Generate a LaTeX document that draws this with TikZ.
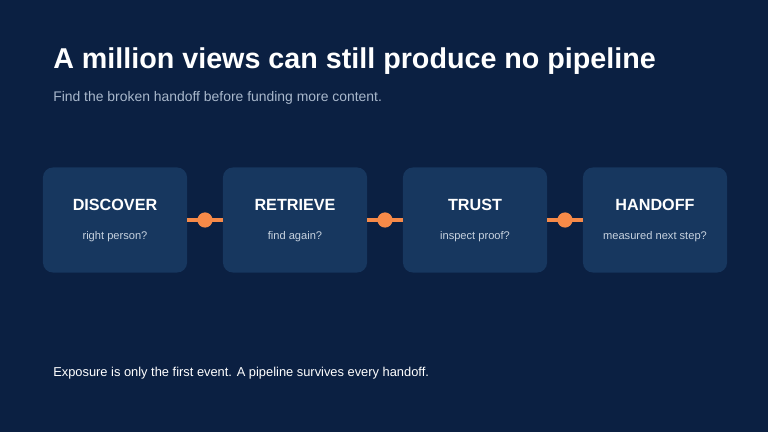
\documentclass[tikz,border=0pt]{standalone}
\usepackage{fontspec}
\setmainfont{Liberation Sans}
\usetikzlibrary{positioning}
\definecolor{bg}{HTML}{0B2042}
\definecolor{boxc}{HTML}{17375F}
\definecolor{accent}{HTML}{F78A48}
\definecolor{subc}{HTML}{A9B8CC}
\definecolor{mutec}{HTML}{C8D3E0}

\begin{document}
\begin{tikzpicture}[
		x=0.025cm, y=-0.025cm,
		stage/.style={fill=boxc, rounded corners=7pt, minimum width=3.6cm, minimum height=2.625cm, inner sep=0pt},
		stitle/.style={text=white, font=\fontsize{11.5}{13}\selectfont\bfseries},
		ssub/.style={text=mutec, font=\fontsize{7.9}{9}\selectfont},
		link/.style={draw=accent, line width=3.5pt},
		dot/.style={circle, fill=accent, minimum size=0.38cm, inner sep=0pt},
		plain/.style={anchor=base west, inner sep=0pt},
	]
	\fill[bg] (0,0) rectangle (768,432);
	\useasboundingbox (0,0) rectangle (768,432);

	\node[plain, text=white, font=\fontsize{20.4}{23}\selectfont\bfseries] (title) at (53,69) {A million views can still produce no pipeline};
	\node[plain, text=subc, font=\fontsize{9.9}{11}\selectfont] (subtitle) at (53,102) {Find the broken handoff before funding more content.};

	\node[stage] (discover) at (115,220) {};
	\node[stage] (retrieve) at (295,220) {};
	\node[stage] (trust) at (475,220) {};
	\node[stage] (handoff) at (655,220) {};

	\node[stitle] at (115,205) {DISCOVER};
	\node[stitle] at (295,205) {RETRIEVE};
	\node[stitle] at (475,205) {TRUST};
	\node[stitle] at (655,205) {HANDOFF};
	\node[ssub] at (115,237) {right person?};
	\node[ssub] at (295,237) {find again?};
	\node[ssub] at (475,237) {inspect proof?};
	\node[ssub] at (655,237) {measured next step?};

	\draw[link] (discover.east) -- (retrieve.west) node[midway, dot] {};
	\draw[link] (retrieve.east) -- (trust.west) node[midway, dot] {};
	\draw[link] (trust.east) -- (handoff.west) node[midway, dot] {};

	\node[plain, text=white, font=\fontsize{9.15}{10}\selectfont] (footer) at (53,376) {Exposure is only the first event. A pipeline survives every handoff.};
\end{tikzpicture}
\end{document}
